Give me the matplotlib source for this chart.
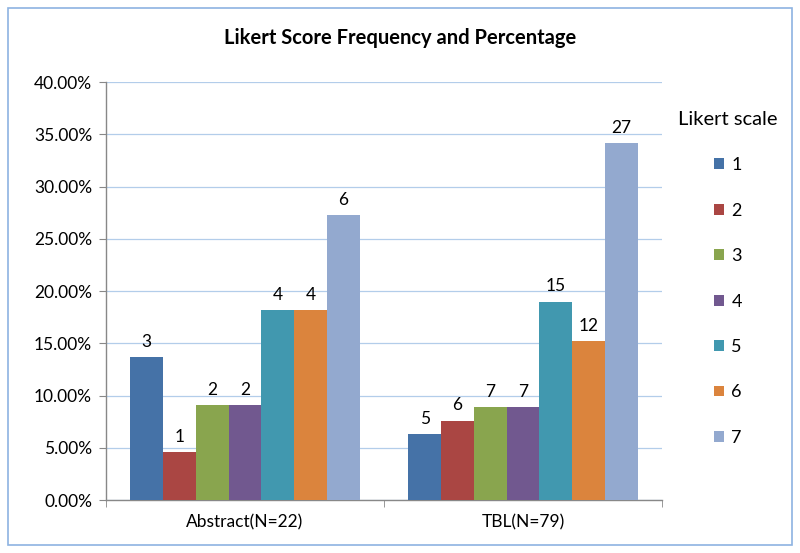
import numpy as np
import matplotlib.pyplot as plt
from matplotlib.patches import Rectangle

plt.rcParams['font.family'] = ['Lato', 'DejaVu Sans']

# Data
groups = ['Abstract(N=22)', 'TBL(N=79)']
likert = ['1', '2', '3', '4', '5', '6', '7']
counts = [
    [3, 1, 2, 2, 4, 4, 6],
    [5, 6, 7, 7, 15, 12, 27],
]
percents = [
    [13.64, 4.55, 9.09, 9.09, 18.18, 18.18, 27.27],
    [6.33, 7.59, 8.86, 8.86, 18.99, 15.19, 34.18],
]
colors = ['#4572A7', '#AA4643', '#89A54E', '#71588F', '#4198AF', '#DB843D', '#93A9CF']

fig = plt.figure(figsize=(8, 5.53), dpi=100)
ax = fig.add_axes([0.1325, 0.0958, 0.695, 0.7559])

n = len(likert)
bar_w = 0.118
x = np.arange(len(groups))
for i in range(n):
    vals = [percents[g][i] for g in range(len(groups))]
    pos = x + (i - (n - 1) / 2) * bar_w
    bars = ax.bar(pos, vals, width=bar_w, color=colors[i], label=likert[i], zorder=3)
    for b, g in zip(bars, range(len(groups))):
        ax.text(b.get_x() + b.get_width() / 2, b.get_height() + 0.7, str(counts[g][i]),
                ha='center', va='bottom', fontsize=12.5, color='black')

ax.set_xlim(-0.5, 1.5)
ax.set_ylim(0, 40)
ax.set_yticks(np.arange(0, 41, 5))
ax.set_yticklabels([f'{v:.2f}%' for v in np.arange(0, 41, 5)])
ax.yaxis.grid(True, color='#B3CDEA', linewidth=0.9, zorder=0)
ax.set_axisbelow(True)

ax.set_xticks(x)
ax.set_xticklabels(groups)
ax.set_xticks([-0.5, 0.5, 1.5], minor=True)
ax.tick_params(axis='x', which='major', length=0, pad=10, labelsize=12.5)
ax.tick_params(axis='x', which='minor', length=5, color='#888888', direction='out')
ax.tick_params(axis='y', length=5, color='#888888', labelsize=12.5, pad=5)

for s in ['top', 'right']:
    ax.spines[s].set_visible(False)
for s in ['left', 'bottom']:
    ax.spines[s].set_color('#888888')
    ax.spines[s].set_linewidth(1)

fig.text(0.5, 0.931, 'Likert Score Frequency and Percentage', ha='center', va='center',
         fontsize=14.5, fontweight='bold')

leg = ax.legend(title='Likert scale', loc='upper left', bbox_to_anchor=(1.0, 0.97),
                frameon=False, fontsize=13, title_fontsize=14.5, handlelength=0.55,
                handleheight=0.55, handletextpad=0.4, labelspacing=1.63)
leg._legend_box.align = 'center'

fig.patches.append(Rectangle((0.01, 0.015), 0.98, 0.97, transform=fig.transFigure,
                             fill=False, edgecolor='#8DB3E2', linewidth=1.2))

fig.savefig('out.png', dpi=100)
